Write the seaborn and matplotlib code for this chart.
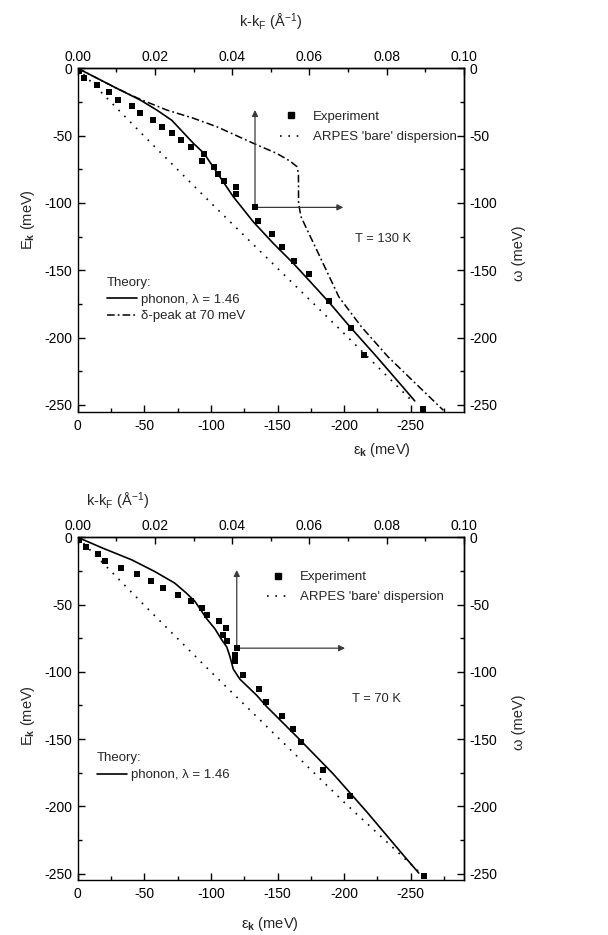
import numpy as np
import pandas as pd
import matplotlib
matplotlib.use("Agg")
import matplotlib.pyplot as plt
import seaborn as sns
from matplotlib.lines import Line2D
from matplotlib.ticker import MultipleLocator, FormatStrFormatter

# ---------------- data ----------------
# Top panel, T = 130 K
exp_top_eps = [-1, -4.6, -14.8, -23.2, -30.5, -41, -46.5, -56.5, -63, -71, -77.2, -85.4,
               -93, -95, -102.3, -105.2, -109.6, -118.8, -118.8, -133.1, -135.6, -146.1,
               -153.6, -162.6, -173.6, -188.7, -205.2, -215.2, -259]
exp_top_E = [-2, -7.5, -12.5, -18, -23.5, -28, -33, -38.5, -43.5, -48.3, -53.5, -58.5,
             -68.5, -63.5, -73.5, -78.5, -84, -88, -93.4, -103.3, -113.2, -123.1,
             -133, -143.2, -153, -172.5, -193.2, -213, -253]

bare_top_eps = [0, -50, -100, -150, -200, -252]
bare_top_E = [0, -50.5, -100, -148.5, -197, -248]

phonon_top_eps = [0, -16.7, -29.3, -46.8, -59.3, -70.6, -81.4, -86.8, -94.8, -105.6, -116.8,
                  -131.8, -146.8, -161.9, -176.9, -189.4, -204.4, -224.5, -244.8, -253]
phonon_top_E = [0, -8.5, -14.9, -23.5, -31, -38.6, -50, -55.7, -63.2, -79, -95.4,
                -114, -130, -144.9, -161, -174.6, -192, -214.3, -237.5, -247]

delta_top_eps = [0, -16.7, -29.3, -46.8, -66.8, -86.8, -104.4, -131.8, -149.4, -159.5, -164.5,
                 -165.7, -165.8, -167.5, -173.5, -183, -196, -213, -233, -274.5]
delta_top_E = [0, -8.5, -14.9, -23, -31, -37.1, -43.4, -55.7, -63.2, -69, -73,
               -78, -100, -110, -122.6, -142.4, -169.7, -192, -214.3, -254]

# Bottom panel, T = 70 K
exp_bot_eps = [-1, -6, -15, -20.6, -32.3, -44.2, -55, -63.7, -75.3, -85.3, -93, -96.9,
               -105.8, -111.5, -109.4, -112, -119.4, -118.1, -118.1, -124.3, -136.3,
               -141.1, -153.2, -161.4, -167.6, -184.4, -204.4, -260.2]
exp_bot_E = [-2, -7.4, -12.4, -17.5, -22.5, -27.4, -32.4, -37.5, -42.5, -47.6, -52.6, -57.6,
             -62.5, -67.3, -72.3, -77.3, -82.4, -87.4, -92.3, -102.7, -112.6,
             -122.5, -132.5, -142.6, -152.5, -172.7, -192.5, -252.1]

bare_bot_eps = [0, -50, -100, -150, -200, -256]
bare_bot_E = [0, -50.5, -100, -148.5, -197, -248.5]

phonon_bot_eps = [0, -19, -40.5, -57.8, -72.8, -81.5, -87.9, -92.2, -96.8, -103, -108,
                  -111.9, -114.3, -116.8, -121.8, -134.4, -141.9, -166.9, -191.9, -216.9,
                  -244.2, -256]
phonon_bot_E = [0, -8.1, -16.7, -25.4, -34, -41.4, -47.5, -53.7, -60.5, -68, -76,
                -81.5, -88.7, -98, -105.5, -117.5, -125.9, -150.6, -176, -204,
                -236, -249.6]

# arrows (origin eps, origin E, top end of vertical arrow, right end of horizontal arrow)
arrow_top = (-133.1, -103.3, -31, -199.4)
arrow_bot = (-119.4, -82.4, -24.3, -200.7)

# axis ranges
EPS_LIM = (0, -290)
E_LIM = (-255, 0)
K_MAX = 0.10

# ---------------- style ----------------
sns.set_theme(style="ticks")
plt.rcParams["font.family"] = ["Liberation Sans", "DejaVu Sans"]
plt.rcParams.update({
    "axes.unicode_minus": False,
    "mathtext.fontset": "custom",
    "mathtext.rm": "Liberation Sans",
    "mathtext.it": "Liberation Sans:italic",
    "mathtext.bf": "Liberation Sans:bold",
    "mathtext.default": "regular",
    "font.size": 10,
    "axes.linewidth": 1.0,
    "axes.edgecolor": "black",
    "xtick.color": "black",
    "ytick.color": "black",
})

FS_TICK = 10
FS_LEG = 9.5
FS_LAB = 10.5
DOT = (0, (1.0, 4.0))
DASHDOT = (0, (5.0, 2.0, 1.2, 2.0))

fig = plt.figure(figsize=(6.08, 9.35), dpi=100)
ax_top = fig.add_axes([0.1278, 0.5597, 0.6354, 0.3673])
ax_bot = fig.add_axes([0.1278, 0.0585, 0.6354, 0.3668])


def style_axes(ax):
    ax.set_xlim(*EPS_LIM)
    ax.set_ylim(*E_LIM)
    ax.xaxis.set_major_locator(MultipleLocator(50))
    ax.xaxis.set_minor_locator(MultipleLocator(25))
    ax.yaxis.set_major_locator(MultipleLocator(50))
    ax.yaxis.set_minor_locator(MultipleLocator(25))
    ax.tick_params(which="both", direction="in", top=False, right=False, labelsize=FS_TICK)
    ax.tick_params(which="major", length=5, width=1)
    ax.tick_params(which="minor", length=3, width=1)
    ax.tick_params(axis="x", pad=5)
    ax.tick_params(axis="y", pad=4)
    for s in ax.spines.values():
        s.set_visible(True)
        s.set_linewidth(1.0)
    scale = K_MAX / EPS_LIM[1]
    secx = ax.secondary_xaxis("top", functions=(lambda e: e * scale, lambda k: k / scale))
    secx.xaxis.set_major_locator(MultipleLocator(0.02))
    secx.xaxis.set_minor_locator(MultipleLocator(0.01))
    secx.xaxis.set_major_formatter(FormatStrFormatter("%.2f"))
    secx.tick_params(which="both", direction="in", labelsize=FS_TICK, pad=3)
    secx.tick_params(which="major", length=5, width=1)
    secx.tick_params(which="minor", length=3, width=1)
    secy = ax.secondary_yaxis("right", functions=(lambda y: y, lambda y: y))
    secy.yaxis.set_major_locator(MultipleLocator(50))
    secy.yaxis.set_minor_locator(MultipleLocator(25))
    secy.tick_params(which="both", direction="in", labelsize=FS_TICK, pad=4)
    secy.tick_params(which="major", length=5, width=1)
    secy.tick_params(which="minor", length=3, width=1)
    ax.set_ylabel(r"$E_{\mathbf{k}}$ (meV)", fontsize=FS_LAB)
    secy.set_ylabel("ω (meV)", fontsize=FS_LAB)
    ax.set_xlabel(r"$\varepsilon_{\mathbf{k}}$ (meV)", fontsize=FS_LAB)
    secx.set_xlabel(r"k-k$_F$ (Å$^{-1}$)", fontsize=FS_LAB)
    return secx, secy


def draw_arrows(ax, arr):
    x0, y0, ytop, xright = arr
    props = dict(arrowstyle="-|>", color="#3a3a3a", lw=0.9, mutation_scale=9,
                 shrinkA=0, shrinkB=0)
    ax.annotate("", xy=(x0, ytop), xytext=(x0, y0), arrowprops=props)
    ax.annotate("", xy=(xright, y0), xytext=(x0, y0), arrowprops=props)


h_exp = Line2D([], [], marker="s", ls="none", color="black", markersize=5)
h_bare = Line2D([], [], color="black", lw=1.2, linestyle=DOT)
h_ph = Line2D([], [], color="black", lw=1.2)
h_dp = Line2D([], [], color="black", lw=1.1, linestyle=DASHDOT)

# ---------------- top panel ----------------
ax = ax_top
sns.lineplot(x=bare_top_eps, y=bare_top_E, ax=ax, sort=False, estimator=None,
             color="black", lw=1.2, linestyle=DOT)
sns.lineplot(x=delta_top_eps, y=delta_top_E, ax=ax, sort=False, estimator=None,
             color="black", lw=1.1, linestyle=DASHDOT)
sns.lineplot(x=phonon_top_eps, y=phonon_top_E, ax=ax, sort=False, estimator=None,
             color="black", lw=1.2)
draw_arrows(ax, arrow_top)
sns.scatterplot(x=exp_top_eps, y=exp_top_E, ax=ax, marker="s", s=24, color="black",
                linewidth=0, zorder=5)
secx, secy = style_axes(ax)
ax.xaxis.set_label_coords(0.788, -0.085)
secx.xaxis.set_label_coords(0.498, 1.12, transform=ax.transAxes)
ax.yaxis.set_label_coords(-0.105, 0.56)
secy.yaxis.set_label_coords(1.125, 0.46, transform=ax.transAxes)

leg1 = ax.legend([h_exp, h_bare], ["Experiment", "ARPES 'bare' dispersion"],
                 loc="upper left", bbox_to_anchor=(0.524, 0.876), frameon=False,
                 fontsize=FS_LEG, borderpad=0, borderaxespad=0, handlelength=1.7,
                 handletextpad=0.8, labelspacing=0.6)
ax.add_artist(leg1)
leg2 = ax.legend([h_ph, h_dp], ["phonon, λ = 1.46", "δ-peak at 70 meV"],
                 title="Theory:", alignment="left", title_fontsize=FS_LEG,
                 loc="upper left", bbox_to_anchor=(0.075, 0.393), frameon=False,
                 fontsize=FS_LEG, borderpad=0, borderaxespad=0, handlelength=2.3,
                 handletextpad=0.3, labelspacing=0.35)
ax.text(0.718, 0.502, "T = 130 K", transform=ax.transAxes, fontsize=9.3,
        ha="left", va="center")

# ---------------- bottom panel ----------------
ax = ax_bot
sns.lineplot(x=bare_bot_eps, y=bare_bot_E, ax=ax, sort=False, estimator=None,
             color="black", lw=1.2, linestyle=DOT)
sns.lineplot(x=phonon_bot_eps, y=phonon_bot_E, ax=ax, sort=False, estimator=None,
             color="black", lw=1.2)
draw_arrows(ax, arrow_bot)
sns.scatterplot(x=exp_bot_eps, y=exp_bot_E, ax=ax, marker="s", s=24, color="black",
                linewidth=0, zorder=5)
secx2, secy2 = style_axes(ax)
ax.xaxis.set_label_coords(0.498, -0.1)
secx2.xaxis.set_label_coords(0.102, 1.09, transform=ax.transAxes)
ax.yaxis.set_label_coords(-0.105, 0.48)
secy2.yaxis.set_label_coords(1.125, 0.46, transform=ax.transAxes)

leg3 = ax.legend([h_exp, h_bare], ["Experiment", "ARPES 'bare' dispersion"],
                 loc="upper left", bbox_to_anchor=(0.489, 0.902), frameon=False,
                 fontsize=FS_LEG, borderpad=0, borderaxespad=0, handlelength=1.8,
                 handletextpad=0.7, labelspacing=0.6)
ax.add_artist(leg3)
leg4 = ax.legend([h_ph], ["phonon, λ = 1.46"],
                 title="Theory:", alignment="left", title_fontsize=FS_LEG,
                 loc="upper left", bbox_to_anchor=(0.049, 0.373), frameon=False,
                 fontsize=FS_LEG, borderpad=0, borderaxespad=0, handlelength=2.3,
                 handletextpad=0.3, labelspacing=0.35)
ax.text(0.709, 0.529, "T = 70 K", transform=ax.transAxes, fontsize=9.3,
        ha="left", va="center")

fig.savefig("out.png", dpi=100)
